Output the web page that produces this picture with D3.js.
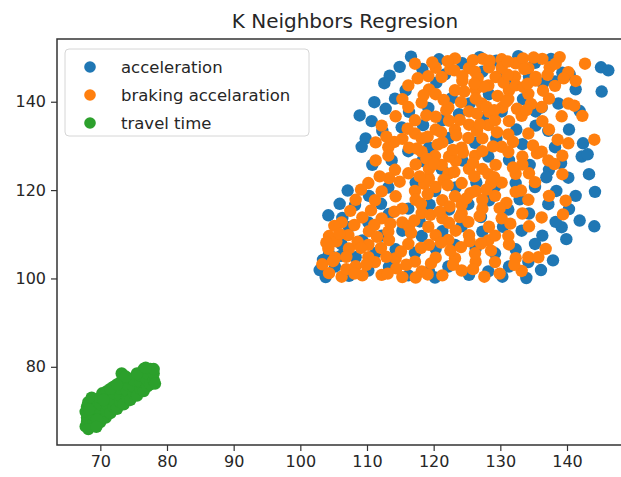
<!DOCTYPE html>
<html>
<head>
<meta charset="utf-8">
<script src="https://cdn.jsdelivr.net/npm/d3@7"></script>
<style>
  body { margin: 0; background: #fff; overflow: hidden; }
  text { font-family: "DejaVu Sans", sans-serif; fill: #262626; }
</style>
</head>
<body>
<div id="my_dataviz"></div>
<script>

// series: [x, y]
const acceleration = [
  [116.6,150.2],[120.8,149.6],[124.3,148.7],[126.9,150.1],[129.4,149.3],[132.7,150.3],[135.2,148.8],[137.6,149.7],[139.3,146.6],[145.1,147.8],[146.2,147.1],[145.2,142.3],
  [113.4,145.9],[112.6,144.2],[114.2,140.7],[118.3,147.4],[115.8,142.6],[120.4,144.3],[121.7,146.2],[127.3,146.8],[130.2,146.3],[131.4,143.6],[134.3,145.7],[136.4,144.2],
  [138.2,144.6],[140.4,146.2],[141.3,142.8],[138.7,139.6],[136.2,138.7],[133.4,140.6],[128.3,141.7],[125.4,139.6],[122.7,140.8],[119.2,138.6],[116.3,137.7],[112.8,138.4],
  [110.7,135.6],[109.8,131.7],[112.3,133.4],[115.2,134.2],[118.4,134.7],[121.3,135.8],[123.8,137.2],[127.4,136.3],[130.2,137.8],[132.4,133.7],[135.3,134.6],[137.2,133.4],
  [140.3,133.7],[142.4,130.6],[138.2,129.7],[133.3,130.4],[129.4,131.6],[126.2,130.7],[122.3,131.8],[119.3,129.6],[116.2,128.8],[113.7,126.7],[109.2,129.8],[110.8,125.7],
  [118.3,126.6],[121.2,124.8],[124.3,126.7],[128.2,127.6],[131.3,126.8],[134.4,125.7],[137.3,124.6],[140.2,122.8],[143.3,123.6],[141.3,118.7],[144.2,119.6],[138.4,119.8],
  [135.2,120.7],[132.3,121.6],[129.2,120.8],[126.4,121.7],[123.3,120.6],[120.2,119.8],[117.3,121.7],[113.2,120.6],[110.3,118.7],[108.2,116.6],[106.3,113.7],[104.2,114.3],
  [107.3,111.6],[110.2,112.7],[113.3,114.6],[116.2,115.8],[119.4,116.7],[122.3,115.6],[125.2,116.8],[128.3,117.7],[131.2,115.6],[134.3,114.7],[137.2,116.8],[140.3,115.7],
  [144.1,111.8],[139.2,111.6],[136.3,109.7],[133.2,110.8],[130.4,111.7],[127.3,110.6],[124.2,111.8],[121.3,110.7],[118.2,109.6],[115.3,110.8],[112.2,109.7],[109.3,108.6],
  [106.2,107.7],[104.3,105.6],[103.4,104.2],[105.2,102.7],[108.3,104.8],[111.2,105.7],[114.3,106.6],[117.2,105.8],[120.3,106.7],[123.2,107.6],[126.3,106.8],[129.2,105.7],
  [132.3,106.6],[135.2,107.8],[131.3,102.7],[128.2,101.6],[125.3,100.8],[122.2,102.7],[119.3,101.6],[116.2,100.7],[113.3,102.6],[110.2,101.8],[107.3,100.6],[103.8,100.3],
  [120.2,100.2],[130.3,100.4],[134.2,103.7],[138.3,112.8],[142.2,127.6],[135.3,137.8],[108.9,136.9],[111.1,139.9],[114.9,147.9],[141.9,137.9],[143.1,128.1],[141.9,113.1],
  [139.9,108.9],[137.9,104.1],[136.1,101.9],[133.9,100.1],[102.9,101.9],[105.9,116.9],[107.1,119.9],[112.1,116.9],[106.1,105.1],[117.9,112.9],[127.1,113.9],[132.9,117.9],
  [136.9,122.9],[139.1,126.1]
];

const brakingAcceleration = [
  [117.2,148.6],[120.3,147.7],[123.2,149.8],[125.3,147.6],[127.4,149.7],[128.3,147.8],[130.2,149.6],[132.3,148.7],[133.4,149.8],[134.2,147.6],[136.3,149.7],[137.4,147.8],
  [138.3,148.6],[140.2,146.7],[142.7,148.6],[141.3,144.7],[138.2,143.6],[135.3,144.8],[132.2,145.7],[129.3,145.6],[126.2,146.8],[124.3,144.7],[121.2,145.6],[119.3,142.8],
  [116.2,143.7],[115.3,140.6],[118.2,139.8],[120.3,141.7],[123.2,142.6],[126.3,142.8],[128.2,143.7],[131.3,142.6],[134.2,141.8],[137.3,140.7],[140.2,139.6],[142.3,136.8],
  [139.2,136.7],[136.3,135.6],[133.2,136.8],[130.3,138.7],[127.2,139.6],[125.3,137.8],[122.2,138.7],[120.3,136.6],[117.2,135.8],[114.3,136.7],[112.2,134.6],[111.3,130.8],
  [113.2,129.7],[115.3,131.6],[117.2,132.8],[120.3,133.7],[123.2,133.6],[125.3,134.8],[128.2,134.7],[131.3,135.6],[134.2,132.8],[137.3,133.7],[140.2,130.6],[144.1,131.4],
  [139.3,127.8],[136.2,128.7],[133.3,127.6],[130.2,129.8],[127.3,131.7],[124.2,129.6],[121.3,130.8],[118.2,131.7],[116.3,129.6],[113.2,127.8],[111.3,126.7],[114.2,124.6],
  [117.3,125.8],[120.2,127.7],[123.3,126.6],[126.2,127.8],[129.3,125.7],[131.2,128.6],[134.3,123.8],[137.2,126.7],[139.3,123.6],[135.2,121.8],[132.3,123.7],[128.2,123.6],
  [125.3,124.8],[122.2,123.7],[119.3,122.6],[116.2,123.8],[113.3,122.7],[110.2,121.6],[108.3,117.8],[111.2,117.7],[114.3,118.6],[117.2,119.8],[120.3,120.7],[123.2,118.6],
  [126.3,119.8],[129.2,118.7],[132.3,119.6],[134.2,117.8],[137.3,118.7],[139.8,117.6],[136.2,113.8],[133.3,114.7],[130.2,113.6],[127.3,115.8],[124.2,114.7],[121.3,113.6],
  [118.2,114.8],[115.3,112.7],[112.2,113.6],[109.3,113.8],[106.2,112.7],[104.3,109.6],[107.2,109.8],[110.3,110.7],[113.2,110.6],[116.3,111.8],[119.2,111.7],[122.3,112.6],
  [125.2,112.8],[128.3,111.7],[131.2,109.6],[134.3,111.8],[136.8,106.7],[134.2,104.8],[131.3,107.7],[128.2,108.6],[125.3,109.8],[122.2,108.7],[119.3,107.6],[116.2,107.8],
  [113.3,108.7],[110.2,107.6],[107.3,106.8],[104.2,106.7],[103.3,103.2],[105.2,104.7],[108.3,102.8],[111.2,103.7],[114.3,104.6],[117.2,103.8],[120.3,104.7],[123.2,104.6],
  [126.3,103.8],[129.2,103.7],[132.3,104.6],[135.7,104.8],[133.2,101.7],[127.6,100.4],[124.2,101.8],[121.3,100.7],[118.2,101.6],[115.3,100.3],[112.2,100.8],[109.3,100.7],
  [106.2,100.4],[104.3,101.2],[117.3,100.2],[110.2,104.8],[121.3,117.7],[124.2,121.6],[127.3,124.8],[118.2,128.7],[122.3,127.6],[125.2,131.8],[128.3,137.7],[131.2,140.6],
  [124.3,145.8],[130.2,147.7],[135.3,145.6],[119.2,145.8],[126.3,140.7],[129.2,135.8],[122.3,135.7],[131.2,132.6],[127.3,128.8],[124.2,116.7],[120.3,109.8],[126.2,105.7],
  [117.3,117.8],[130.2,121.7],[133.3,125.8],[121.2,125.7],[115.3,115.8],[112.2,119.7],[119.3,124.8],[136.2,138.8],[132.3,143.7],[116.2,138.8],[127.3,117.8],[129.2,109.7],
  [123.3,110.8],[118.5,141.5],[121.5,140.4],[124.6,142.3],[127.5,143.4],[129.6,141.3],[132.5,138.4],[134.6,139.5],[126.5,137.3],[123.4,132.4],[120.6,130.3],[117.5,129.4],
  [126.5,133.4],[129.5,133.1],[124.4,128.5],[121.5,122.3],[118.6,121.4],[125.5,119.3],[128.6,121.5],[122.4,116.3],[119.5,114.4],[116.6,110.3],[113.5,112.4],[110.6,115.4],
  [107.5,115.3],[105.4,108.4],[108.6,108.3],[111.5,109.4],[114.4,102.3],[119.6,103.4],[122.5,106.3],[125.4,108.4],[128.6,106.3],[131.5,112.4],[117.6,145.3],[122.5,147.4],
  [128.4,149.3],[133.6,147.4],[139.5,145.3],[136.4,142.5],[133.5,143.3],[126.6,145.4],[130.5,144.3],[138.6,131.4],[139.4,114.5],[135.5,128.3],
  [119.8,148.9],[122.1,149.2],[125.9,149.4],[131.1,149.1],[135.0,150.0],[138.9,150.1],[118.9,136.9],[121.9,138.1],[124.1,139.9],[127.9,138.9],[130.9,140.1],[133.9,138.1],
  [121.1,133.1],[123.9,135.9],[126.9,134.9],[119.1,132.1],[116.1,133.9],[114.1,130.9],[112.9,132.1],[118.9,127.1],[122.9,129.1],[125.9,126.1],[128.9,129.9],[131.9,130.9],
  [134.9,130.1],[120.1,125.9],[123.1,124.1],[126.1,123.1],[129.1,122.9],[131.9,125.1],[117.9,123.1],[114.9,121.9],[111.9,123.1],[109.1,120.1],[119.1,119.1],[122.1,121.1],
  [124.9,118.1],[127.9,120.1],[130.9,117.1],[133.1,119.9],[118.1,116.9],[120.9,115.1],[123.9,113.9],[126.9,114.1],[129.9,115.9],[117.1,113.1],[114.1,115.1],[111.1,112.1],
  [108.1,112.1],[105.1,111.9],[106.9,104.9],[109.1,106.9],[112.1,106.9],[115.1,106.1],[118.1,106.9],[121.1,108.1],[124.1,107.1],[127.1,107.9],[115.9,103.1],[112.9,104.9],
  [109.9,103.1],[106.9,102.1],[104.9,103.9],[108.1,101.1],[113.1,101.1],[119.1,100.9],[122.9,103.1],[125.9,102.1],[129.9,101.1],[132.1,103.1],[103.9,108.1],[105.9,110.1],
  [138.1,125.9],[141.1,139.1],[129.1,138.1],[126.1,144.1],[123.1,147.1],[131.1,146.1],[134.1,144.1],[137.1,146.1]
];

const travelTime = [
  [67.8,66.5],[68,67.5],[68,68.5],[67.8,69.8],[68,71],[68.2,72],[68.5,66.8],[69,67.5],[69,69],[69,70.5],[69,72],[68.7,73],
  [69.5,71],[70,67.5],[70,68.7],[70,70],[70,71.5],[70,73],[70.3,74],[70.8,68.5],[71,70],[71,71.5],[71,73],[71,74.5],
  [71.5,69.5],[72,71],[72,72.5],[72,74],[72,75.5],[72.5,70.5],[73,72],[73,73.5],[73,75],[73,76.5],[73.2,78.5],[73.5,71.5],
  [74,73],[74,74.5],[74,76],[74,77.5],[74.5,72.5],[75,74],[75,75.5],[75,77],[75.5,73.5],[76,75],[76,76.5],[76,78],
  [76.5,74.5],[76.5,79.5],[77,75.5],[77,77],[77,78.5],[77.5,76],[77.5,79.5],[78,77],[78,78.5],[78,79.5],[69.5,68],
  [70.5,72.5],[71.5,75],[72.5,76],[73.8,77.8],[75.5,78.5],[76.8,79.8],[68.3,70.3],[68.2,65.9],[69.4,66.4],[78.2,76.2]
];

const seriesNames = ["acceleration", "braking accelaration", "travel time"];
const xTicks = [70, 80, 90, 100, 110, 120, 130, 140];
const yTicks = [80, 100, 120, 140];

const colors = ["#1f77b4", "#ff7f0e", "#2ca02c"];

// plot area (right spine falls just past the window edge, as in the picture)
const margin = {top: 39, left: 57},
    width = 578,
    height = 406;

const svg = d3.select("#my_dataviz")
  .append("svg")
    .attr("width", 621)
    .attr("height", 477)
    .style("display", "block")
  .append("g")
    .attr("transform", `translate(${margin.left},${margin.top})`);

const x = d3.scaleLinear()
  .domain([63.5, 150.2])
  .range([0, width]);

const y = d3.scaleLinear()
  .domain([62.3, 154.2])
  .range([height, 0]);

// points, in plotting order
const allSeries = [acceleration, brakingAcceleration, travelTime];
allSeries.forEach(function(data, i) {
  svg.append("g")
    .selectAll("circle")
    .data(data)
    .join("circle")
      .attr("cx", d => x(d[0]))
      .attr("cy", d => y(d[1]))
      .attr("r", 6.2)
      .attr("fill", colors[i]);
});

// spines: left, top, bottom
svg.append("path")
  .attr("d", `M${width},0H0V${height}H${width}`)
  .attr("fill", "none")
  .attr("stroke", "#333")
  .attr("stroke-width", 1.5);

// X axis
const xAxis = svg.append("g")
  .attr("transform", `translate(0, ${height})`)
  .call(d3.axisBottom(x).tickValues(xTicks).tickSize(6).tickPadding(5));

// Y axis
const yAxis = svg.append("g")
  .call(d3.axisLeft(y).tickValues(yTicks).tickSize(6).tickPadding(5));

[xAxis, yAxis].forEach(function(ax) {
  ax.select(".domain").remove();
  ax.selectAll("line").attr("stroke", "#333").attr("stroke-width", 1.2);
  ax.selectAll("text")
    .style("font-size", "16px")
    .style("font-family", '"DejaVu Sans", sans-serif')
    .attr("fill", "#262626");
});

// legend
const legend = svg.append("g")
  .attr("transform", "translate(8, 10)");

legend.append("rect")
  .attr("width", 244)
  .attr("height", 87)
  .attr("rx", 4)
  .attr("fill", "#fff")
  .attr("fill-opacity", 0.8)
  .attr("stroke", "#d6d6d6");

seriesNames.forEach(function(name, i) {
  legend.append("circle")
    .attr("cx", 25)
    .attr("cy", 18 + i * 28)
    .attr("r", 5.8)
    .attr("fill", colors[i]);
  legend.append("text")
    .attr("x", 56)
    .attr("y", 18 + i * 28)
    .attr("dy", "0.35em")
    .style("font-size", "16.5px")
    .text(name);
});

// title
svg.append("text")
  .attr("x", 288)
  .attr("y", -11)
  .attr("text-anchor", "middle")
  .style("font-size", "20px")
  .text("K Neighbors Regresion");

</script>
</body>
</html>
